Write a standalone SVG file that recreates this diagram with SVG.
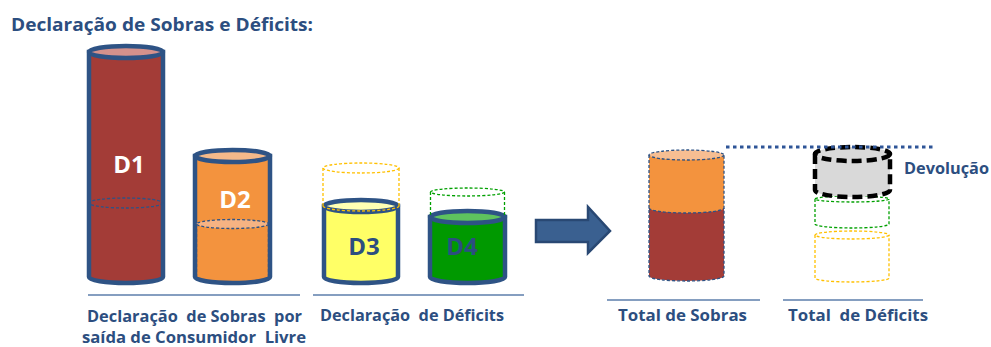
<svg xmlns="http://www.w3.org/2000/svg" width="991" height="347" viewBox="0 0 991 347">
<style>
.t{font-family:"Open Sans","Liberation Sans",sans-serif;font-weight:bold;fill:#2C4E80}
.lbl{font-size:16px}
.big{font-size:24px;text-anchor:middle}
.solid{stroke:#2E5385;stroke-width:4.5}
.dash{fill:none;stroke-width:1.3;stroke-dasharray:3 2}
.base{stroke:#5D7EAB;stroke-width:1.6}
</style>
<rect width="991" height="347" fill="#fff"/>
<text class="t" x="11" y="31" font-size="17.5" textLength="302" lengthAdjust="spacingAndGlyphs">Declaração de Sobras e Déficits:</text>

<g id="d1">
<path class="solid" d="M89,52 V277 A37,6 0 0 0 163,277 V52 Z" fill="#A33C37"/>
<ellipse class="solid" cx="126" cy="52" rx="37" ry="6" fill="#D4918C"/>
<ellipse cx="126" cy="203" rx="37" ry="5" class="dash" stroke="#2E5385"/>
<text class="t big" x="129" y="173" style="fill:#fff">D1</text>
</g>

<g id="d2">
<path class="solid" d="M195,156 V277 A37.5,6 0 0 0 270,277 V156 Z" fill="#F3933E"/>
<ellipse class="solid" cx="232.5" cy="156" rx="37.5" ry="6" fill="#F4B98A"/>
<ellipse cx="232.5" cy="224" rx="36" ry="4.5" fill="#F6B383" stroke="#2E5385" stroke-width="1.3" stroke-dasharray="3 2"/>
<path d="M196.5,224 V277 M268.5,224 V277" class="dash" stroke="#2E5385"/>
<text class="t big" x="235" y="208" style="fill:#fff">D2</text>
</g>

<g id="d3">
<path class="solid" d="M324,206 V277 A37,6 0 0 0 398,277 V206 Z" fill="#FFFF66"/>
<ellipse class="solid" cx="361" cy="206" rx="37" ry="6" fill="#FFFFB3"/>
<ellipse cx="361" cy="168" rx="38" ry="5" class="dash" stroke="#FFC000"/>
<path d="M323,168 V206 M399,168 V206" class="dash" stroke="#FFC000"/>
<path d="M323,206 A38,5 0 0 0 399,206" class="dash" stroke="#FFC000"/>
<text class="t big" x="364" y="255">D3</text>
</g>

<g id="d4">
<path class="solid" d="M430,217 V277 A37.5,6 0 0 0 505,277 V217 Z" fill="#009900"/>
<ellipse class="solid" cx="467.5" cy="217" rx="37.5" ry="6" fill="#5EC25E"/>
<ellipse cx="467.5" cy="192" rx="37" ry="4" class="dash" stroke="#00A000"/>
<path d="M430.5,192 V217 M504.5,192 V217" class="dash" stroke="#00A000"/>
<text class="t big" x="462" y="255">D4</text>
</g>

<g id="arrow">
<path d="M536,220 H588 V207 L610,231 L588,253 V242 H536 Z" fill="#3A6090" stroke="#294873" stroke-width="2.5" stroke-linejoin="miter"/>
</g>

<g id="sobras">
<path d="M649,208 V276 A37.5,5 0 0 0 724,276 V208 Z" fill="#A33C37"/>
<path d="M649,155 V208 A37.5,5 0 0 0 724,208 V155 Z" fill="#F3933E"/>
<ellipse cx="686.5" cy="155" rx="37.5" ry="5" fill="#F7BE92"/>
<path d="M649,155 V276 A37.5,5 0 0 0 724,276 V155" class="dash" stroke="#2E5385"/>
<ellipse cx="686.5" cy="155" rx="37.5" ry="5" class="dash" stroke="#2E5385"/>
<path d="M649,208 A37.5,5 0 0 0 724,208" class="dash" stroke="#2E5385"/>
</g>

<g id="deficits">
<path d="M815,235 V278 A37,4 0 0 0 889,278 V235" class="dash" stroke="#FFC000"/>
<ellipse cx="852" cy="235" rx="37" ry="4" class="dash" stroke="#FFC000"/>
<path d="M815,199 V224 A37,4 0 0 0 889,224 V199" class="dash" stroke="#00A000"/>
<ellipse cx="852" cy="199" rx="37" ry="3" class="dash" stroke="#00A000"/>
</g>

<g id="devolucao">
<path d="M815,154 V190 A37.5,7 0 0 0 890,190 V154 Z" fill="#D9D9D9" stroke="#000" stroke-width="4.5" stroke-dasharray="10 5" stroke-linejoin="round"/>
<ellipse cx="852.5" cy="154" rx="37.5" ry="7" fill="#D9D9D9" stroke="#000" stroke-width="4.5" stroke-dasharray="10 5"/>
<text class="t lbl" x="904" y="174" textLength="85" lengthAdjust="spacingAndGlyphs">Devolução</text>
</g>

<g id="connectors">
<line x1="726" y1="147" x2="936" y2="147" stroke="#2E5597" stroke-width="3.2" stroke-dasharray="3.5 3.5"/>
<line class="base" x1="88" y1="295" x2="300" y2="295"/>
<line class="base" x1="313" y1="295" x2="524" y2="295"/>
<line class="base" x1="607" y1="300" x2="760" y2="300"/>
<line class="base" x1="783" y1="300" x2="923" y2="300"/>
</g>

<g id="labels">
<text class="t lbl" x="87" y="322" textLength="215" lengthAdjust="spacingAndGlyphs" xml:space="preserve">Declaração  de Sobras  por</text>
<text class="t lbl" x="82" y="343" textLength="224" lengthAdjust="spacingAndGlyphs" xml:space="preserve">saída de Consumidor  Livre</text>
<text class="t lbl" x="320" y="321" textLength="184" lengthAdjust="spacingAndGlyphs" xml:space="preserve">Declaração  de Déficits</text>
<text class="t lbl" x="618" y="321" textLength="129" lengthAdjust="spacingAndGlyphs">Total de Sobras</text>
<text class="t lbl" x="788" y="321" textLength="140" lengthAdjust="spacingAndGlyphs" xml:space="preserve">Total  de Déficits</text>
</g>
</svg>
